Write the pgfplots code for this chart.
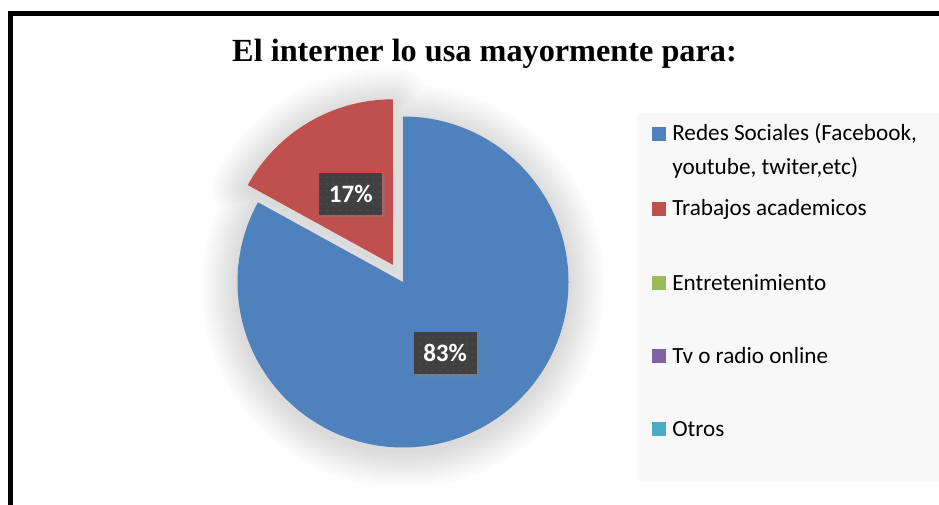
\documentclass[border=0pt]{standalone}
\usepackage{pgfplots}
\pgfplotsset{compat=1.18}
\usepackage{pgfplotstable}
\usepackage{fontspec}
\setmainfont{Liberation Serif}
\newfontfamily\calibri{Carlito}
\usetikzlibrary{shadows,patterns.meta}

\definecolor{cRedes}{HTML}{4F81BD}
\definecolor{cTrab}{HTML}{C0504D}
\definecolor{cEnt}{HTML}{9BBB59}
\definecolor{cTv}{HTML}{8064A2}
\definecolor{cOtros}{HTML}{4BACC6}
\definecolor{lblbg}{HTML}{404040}
\definecolor{lbldot}{HTML}{5A5A5A}
\definecolor{legbg}{HTML}{F8F8F8}

% uso de internet, en porcentaje
\pgfplotstableread{
key value
redes 83
trabajos 17
entret 0
tv 0
otros 0
}\usodata

\begin{document}
\begin{tikzpicture}
\useasboundingbox (0,0) rectangle (704.25pt,378pt);

\pgfplotstablegetelem{0}{value}\of\usodata \pgfmathsetmacro\va{\pgfplotsretval}
\pgfplotstablegetelem{1}{value}\of\usodata \pgfmathsetmacro\vb{\pgfplotsretval}
\pgfmathsetmacro\tot{\va+\vb}
\pgfmathsetmacro\fa{\va/\tot}
\pgfmathsetmacro\fb{\vb/\tot}
\pgfmathsetmacro\aS{90}
\pgfmathsetmacro\aM{90-360*\fa}
\pgfmathsetmacro\aE{\aM-360*\fb}
\pgfmathsetmacro\mA{(\aS+\aM)/2}
\pgfmathsetmacro\mB{(\aM+\aE)/2}
\pgfmathsetmacro\rcx{403+20*cos(\mB)}
\pgfmathsetmacro\rcy{222+20*sin(\mB)}
\pgfmathsetmacro\lax{403+82.75*cos(\mA)}
\pgfmathsetmacro\lay{222+82.75*sin(\mA)}
\pgfmathsetmacro\lbx{\rcx+82.75*cos(\mB)}
\pgfmathsetmacro\lby{\rcy+82.75*sin(\mB)}
\pgfmathtruncatemacro\pa{round(100*\fa)}
\pgfmathtruncatemacro\pb{round(100*\fb)}

% soft shadow under the slices (one path per layer, so slices do not add up)
\begin{scope}[x=0.75pt,y=0.75pt]
  \def\slices{(403,218) -- ++(\aS:165.5) arc[start angle=\aS, end angle=\aM, radius=165.5] -- cycle
      (\rcx,\rcy-4) -- ++(\aM:165.5) arc[start angle=\aM, end angle=\aE, radius=165.5] -- cycle}
  \foreach \w in {72,66,60,54,48,42,36,30,24,18,12,6} {
    \draw[black, draw opacity=0.013, line width=\w*0.75pt, line join=round] \slices;
  }
\end{scope}

\begin{axis}[
    x=0.75pt, y=0.75pt,
    xmin=0, xmax=939, ymin=0, ymax=504,
    anchor=origin, at={(0,0)},
    hide axis, clip=false]
  \fill[cRedes] (axis cs:403,222) -- ++(\aS:124.125pt)
     arc[start angle=\aS, end angle=\aM, radius=124.125pt] -- cycle;
  \fill[cTrab] (axis cs:\rcx,\rcy) -- ++(\aM:124.125pt)
     arc[start angle=\aM, end angle=\aE, radius=124.125pt] -- cycle;
  \node[drop shadow={opacity=0.45, shadow xshift=2pt, shadow yshift=-2pt},
        preaction={fill=lblbg}, pattern={Dots[distance=5pt, radius=0.55pt]}, pattern color=lbldot,
        minimum width=47.25pt, minimum height=31.5pt, inner sep=0pt,
        text=white, font=\calibri\bfseries\fontsize{18.8pt}{20pt}\selectfont]
    at (axis cs:\lax,\lay) {\pa\%};
  \node[drop shadow={opacity=0.45, shadow xshift=2pt, shadow yshift=-2pt},
        preaction={fill=lblbg}, pattern={Dots[distance=5pt, radius=0.55pt]}, pattern color=lbldot,
        minimum width=47.25pt, minimum height=31.5pt, inner sep=0pt,
        text=white, font=\calibri\bfseries\fontsize{18.8pt}{20pt}\selectfont]
    at (axis cs:\lbx,\lby) {\pb\%};
\end{axis}

\begin{scope}[x=0.75pt,y=0.75pt]
  % titulo
  \node[anchor=base, inner sep=0pt, font=\bfseries\fontsize{24.2pt}{28pt}\selectfont]
    at (484.5,442) {El interner lo usa mayormente para:};
  % leyenda
  \fill[legbg] (637,23) rectangle (939,391);
  \tikzset{legtxt/.style={anchor=base west, inner sep=0pt,
      font=\calibri\fontsize{17.4pt}{20pt}\selectfont}}
  \fill[cRedes] (652,363) rectangle (666,377);
  \node[legtxt] at (672,363) {Redes Sociales (Facebook,};
  \node[legtxt] at (672,329) {youtube, twiter,etc)};
  \fill[cTrab]  (652,288) rectangle (666,302);
  \node[legtxt] at (672,288) {Trabajos academicos};
  \fill[cEnt]   (652,214) rectangle (666,228);
  \node[legtxt] at (672,214) {Entretenimiento};
  \fill[cTv]    (652,141) rectangle (666,155);
  \node[legtxt] at (672,141) {Tv o radio online};
  \fill[cOtros] (652,68) rectangle (666,82);
  \node[legtxt] at (672,68) {Otros};
  % marco
  \draw[line width=4.1pt] (10.5,-10) -- (10.5,490.5) -- (950,490.5);
\end{scope}
\end{tikzpicture}
\end{document}
